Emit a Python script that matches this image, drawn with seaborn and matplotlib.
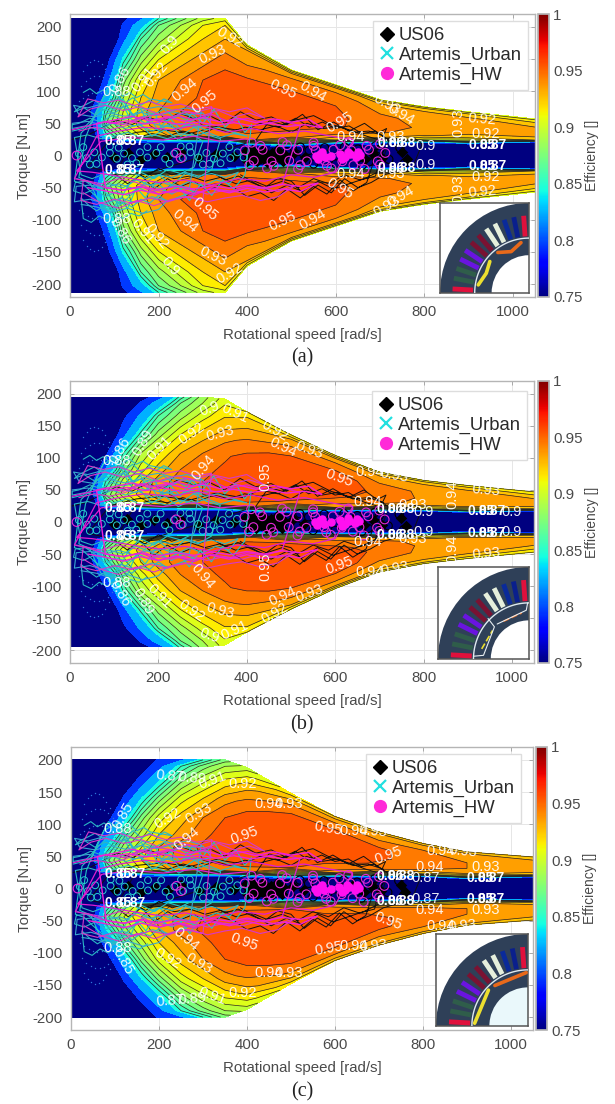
import numpy as np
import seaborn as sns
import matplotlib.pyplot as plt
from matplotlib.colors import Normalize
from matplotlib.cm import ScalarMappable
from matplotlib.lines import Line2D
from matplotlib.markers import MarkerStyle
from matplotlib.patches import Wedge, Circle

W, H = 615, 1104

# efficiency map: rows are fractions of the max torque at each speed
speeds = [0, 40, 80, 120, 160, 200, 250, 300, 350, 400, 500, 600, 700, 800, 900, 1050]
torque_frac = [0, .07, .14, .22, .32, .42, .55, .7, .85, .95, 1]

env_a = [213, 213, 213, 213, 213, 213, 213, 213, 213, 172, 133, 110, 87, 76, 68, 57]
env_b = [195, 195, 195, 195, 195, 195, 195, 195, 192, 172, 136, 104, 78, 65, 57, 47]
env_c = [200, 200, 200, 200, 200, 200, 200, 200, 200, 188, 148, 112, 88, 70, 57, 49]

eff_a = [
    [.7, .7, .7, .7, .7, .7, .7, .7, .7, .7, .7, .7, .7, .7, .7, .7],
    [.7, .7, .7, .7, .7, .7, .7, .7, .7, .7, .7, .7, .7, .7, .7, .7],
    [.7, .72, .84, .88, .91, .925, .935, .94, .945, .945, .87, .72, .7, .7, .7, .7],
    [.7, .74, .87, .905, .925, .935, .945, .95, .952, .952, .945, .92, .8, .7, .7, .7],
    [.7, .76, .855, .9, .925, .94, .95, .953, .956, .956, .952, .945, .93, .905, .89, .7],
    [.7, .74, .82, .89, .92, .935, .945, .952, .956, .957, .956, .952, .942, .932, .925, .92],
    [.7, .71, .79, .875, .91, .93, .94, .95, .955, .957, .957, .952, .945, .938, .935, .935],
    [.7, .7, .76, .845, .885, .91, .925, .935, .945, .95, .953, .95, .942, .937, .935, .935],
    [.7, .7, .72, .80, .86, .885, .905, .92, .93, .937, .945, .945, .935, .935, .932, .925],
    [.7, .7, .71, .785, .83, .87, .89, .91, .92, .93, .935, .932, .928, .925, .92, .915],
    [.7, .7, .7, .77, .805, .85, .875, .895, .905, .905, .905, .905, .905, .905, .905, .905],
]
eff_b = [
    [.7, .7, .7, .7, .7, .7, .7, .7, .7, .7, .7, .7, .7, .7, .7, .7],
    [.7, .7, .7, .7, .7, .7, .7, .7, .7, .7, .7, .7, .7, .7, .7, .7],
    [.7, .72, .84, .885, .91, .925, .935, .94, .945, .945, .87, .72, .7, .7, .7, .7],
    [.7, .74, .87, .905, .925, .935, .945, .95, .953, .955, .948, .93, .8, .7, .7, .7],
    [.7, .75, .85, .895, .92, .935, .945, .95, .955, .957, .955, .948, .935, .905, .89, .7],
    [.7, .73, .81, .875, .905, .925, .94, .947, .952, .957, .957, .953, .945, .935, .93, .915],
    [.7, .7, .77, .85, .89, .91, .93, .94, .948, .955, .957, .955, .948, .938, .935, .935],
    [.7, .7, .73, .80, .855, .885, .91, .925, .935, .945, .955, .955, .945, .938, .935, .935],
    [.7, .7, .71, .77, .815, .86, .885, .905, .92, .93, .942, .945, .935, .935, .932, .925],
    [.7, .7, .7, .74, .785, .825, .87, .89, .91, .92, .93, .932, .928, .925, .92, .915],
    [.7, .7, .7, .72, .76, .795, .855, .885, .905, .91, .91, .91, .91, .91, .91, .91],
]
eff_c = [
    [.7, .7, .7, .7, .7, .7, .7, .7, .7, .7, .7, .7, .7, .7, .7, .7],
    [.7, .7, .7, .7, .7, .7, .7, .7, .7, .7, .7, .7, .7, .7, .7, .7],
    [.7, .72, .84, .885, .91, .925, .935, .94, .945, .945, .87, .72, .7, .7, .7, .7],
    [.7, .74, .865, .9, .92, .932, .945, .95, .955, .955, .95, .935, .84, .7, .7, .7],
    [.7, .74, .84, .885, .91, .93, .945, .952, .957, .958, .956, .948, .938, .915, .895, .7],
    [.7, .72, .80, .865, .895, .92, .935, .947, .955, .958, .958, .956, .948, .94, .935, .915],
    [.7, .7, .76, .83, .875, .905, .925, .94, .95, .957, .958, .958, .952, .945, .94, .937],
    [.7, .7, .72, .785, .84, .875, .905, .92, .935, .945, .957, .957, .952, .945, .94, .937],
    [.7, .7, .7, .745, .79, .835, .875, .895, .91, .925, .945, .948, .94, .94, .935, .932],
    [.7, .7, .7, .72, .76, .80, .85, .875, .89, .905, .928, .935, .935, .932, .93, .928],
    [.7, .7, .7, .7, .74, .785, .805, .85, .875, .895, .915, .92, .92, .92, .92, .92],
]

# driving cycles, same in all three panels
us06_speed = [5, 35, 70, 105, 140, 175, 210, 245, 280, 315, 350, 385, 420, 455, 490, 525, 560, 595, 630, 665, 695, 715,
              700, 670, 640, 610, 580, 550, 520, 490, 460, 430, 400, 370, 340, 310, 280, 250, 220, 190, 160, 130, 100, 70, 40,
              90, 150, 210, 270, 330, 390, 430, 470, 510, 550, 590, 630, 670, 700, 730, 760, 780, 795,
              770, 740, 710, 680, 650, 620, 590, 560, 530, 500, 470, 440, 410, 380, 350, 320, 290, 260, 230, 200, 170, 140, 110,
              150, 185, 220, 255, 290, 325, 360, 395, 430, 465, 500, 535, 570, 605, 640, 675, 710,
              690, 655, 620, 585, 550, 515, 480, 445, 410, 375, 340, 305, 270, 235, 200, 165,
              420, 450, 480, 510, 540, 570, 600, 630, 660, 690, 720,
              700, 665, 630, 595, 560, 525, 490, 455, 420, 385]
us06_torque = [25, 30, 42, 55, 48, 60, 52, 66, 58, 62, 50, 68, 55, 60, 48, 64, 40, 52, 38, 50, 35, 42,
               20, -42, -55, -38, -60, -48, -66, -52, -70, -58, -64, -50, -45, -55, -40, -48, -36, -52, -30, -44, -28, -22, -18,
               25, 36, 40, 34, 45, 38, 50, 44, 55, 62, 48, 40, 30, 24, 28, 22, 26, 18,
               -25, -24, -30, -42, -50, -36, -58, -46, -62, -40, -35, -50, -42, -32, -38, -26, -34, -24, -30, -20, -34, -26, -18,
               28, 34, 30, 38, 32, 42, 36, 44, 40, 46, 36, 50, 42, 46, 36, 38, 30,
               -32, -38, -30, -44, -36, -50, -40, -48, -38, -44, -34, -40, -32, -36, -28, -30,
               24, 54, 48, 58, 44, 52, 42, 46, 34, 38, 24,
               -24, -36, -44, -52, -40, -56, -46, -58, -44, -30]
us06_core_speed = [100, 130, 160, 190, 220, 250, 290, 330, 370, 395, 405, 415, 425, 432, 440, 448, 455, 463, 470, 478, 485, 400,
                   412, 422, 436, 444, 458, 468, 480, 410, 428, 446, 466, 505, 530, 640, 665, 685, 705, 750, 760]
us06_core_torque = [-3, 4, -5, 3, -2, 5, -4, 3, 0, 6, -6, 4, 0, -4, 6, -2, 4, -6, 3, -3, 1, -8,
                    9, -9, 9, -10, -9, 9, -9, 0, 2, -1, 0, 4, -3, 5, -5, 3, -4, 6, -6]
us06_ring_speed = [490, 515, 540, 520, 550, 575, 600, 620, 650, 675, 700, 720, 660, 690, 745, 755]
us06_ring_torque = [6, -6, 8, 13, -13, 12, -13, 13, 10, -10, 10, -6, -15, 15, 12, -12]

urban_speed = [5, 30, 55, 80, 100, 120, 140, 160, 175, 190, 205, 225, 250, 275, 300, 325, 350, 375, 395, 410,
               395, 370, 345, 320, 295, 270, 245, 220, 195, 170, 150, 130, 110, 90, 70, 50, 30, 10,
               25, 50, 75, 100, 125, 150, 175, 200, 225, 250, 280, 310, 340,
               320, 290, 260, 230, 200, 170, 140, 115, 90, 65, 40, 20,
               35, 60, 85, 110, 135, 160, 185, 215, 245, 275, 300,
               280, 250, 220, 190, 160, 130, 100, 70, 45, 15]
urban_torque = [38, 42, 60, 78, 70, 88, 62, 72, 52, 68, 45, 58, 40, 66, 50, 72, 44, 60, 36, 48,
                -30, -52, -38, -62, -44, -70, -48, -58, -40, -66, -50, -82, -68, -92, -70, -58, -45, -40,
                35, 52, 90, 100, 80, 56, 64, 38, 50, 30, 44, 32, 26,
                -22, -34, -28, -46, -30, -42, -60, -76, -64, -48, -40, -34,
                28, 70, 104, 92, 58, 48, 30, 40, 24, 34, 22,
                -18, -28, -22, -36, -26, -48, -86, -80, -42, -36]
urban_pass_speed = [30, 45, 60, 75, 90, 105, 120, 135, 150, 165, 180,
                    230, 212, 195, 178, 160, 142, 125, 108, 90, 72, 55, 38, 20,
                    10, 32, 55, 78, 100, 122, 145, 168, 190, 212, 235, 258, 280,
                    320, 295, 270, 245, 220, 195, 170, 145, 120, 95, 70, 45, 20, 5,
                    5, 35, 65, 95, 125, 155, 185, 215, 245, 275, 305, 335, 360,
                    400, 370, 340, 310, 280, 250, 220, 190, 160, 130, 100, 70, 40, 10,
                    25, 50, 80, 110, 140, 170, 200, 230, 260, 290, 320, 350, 380,
                    360, 330, 300, 270, 240, 210, 180, 150, 120, 90, 60, 35, 12,
                    8, 30, 55, 80, 105, 130, 155, 180, 205, 230, 255, 280,
                    240, 220, 200, 180, 160, 140, 120, 100, 80, 60, 40, 25,
                    30, 48, 66, 84, 102, 120, 138, 156, 174]
urban_pass_torque = [98, 104, 96, 102, 94, 100, 92, 98, 90, 95, 88,
                     82, 88, 80, 86, 78, 90, 82, 88, 84, 78, 86, 80, 74,
                     68, 74, 64, 72, 66, 76, 62, 70, 64, 72, 60, 68, 58,
                     56, 60, 52, 62, 54, 58, 50, 60, 56, 62, 52, 58, 50, 48,
                     42, 46, 40, 50, 42, 48, 38, 46, 42, 50, 40, 44, 38,
                     30, 34, 28, 36, 30, 34, 26, 32, 28, 36, 30, 26, 32, 28,
                     -30, -36, -28, -34, -26, -36, -30, -34, -26, -32, -28, -34, -26,
                     -44, -38, -48, -40, -50, -42, -46, -38, -50, -44, -52, -40, -42,
                     -55, -60, -52, -64, -56, -62, -50, -58, -52, -60, -50, -56,
                     -66, -72, -62, -74, -68, -80, -72, -84, -78, -86, -76, -66,
                     -98, -104, -94, -100, -92, -98, -90, -94, -86]
urban_pass2_speed = [5, 40, 75, 110, 145, 180, 215, 250, 285, 320,
                     300, 265, 230, 195, 160, 125, 90, 55, 20,
                     8, 40, 72, 104, 136, 168, 200, 232, 264, 296,
                     270, 238, 206, 174, 142, 110, 78, 46, 14,
                     10, 45, 80, 115, 150, 185, 220,
                     200, 165, 130, 95, 60, 25]
urban_pass2_torque = [50, 53, 47, 52, 46, 51, 45, 50, 44, 48,
                      66, 63, 68, 62, 67, 61, 66, 60, 64,
                      78, 74, 80, 73, 79, 72, 76, 70, 74, 68,
                      -50, -46, -52, -45, -51, -44, -50, -46, -48,
                      -72, -68, -75, -66, -74, -64, -70,
                      -84, -90, -82, -88, -80, -76]
urban_low_speed = [30, 38, 46, 55, 64, 72, 80, 88, 25, 35, 45, 55, 65, 75, 85, 95, 105, 20, 30, 40, 50, 60, 70, 80, 90, 100,
                   30, 38, 46, 55, 64, 72, 80, 88, 25, 35, 45, 55, 65, 75, 85, 95, 105, 20, 30, 40, 50, 60, 70, 80, 90, 100]
urban_low_torque = [132, 140, 146, 148, 147, 143, 135, 125, 108, 116, 120, 123, 124, 122, 117, 110, 100, 84, 90, 94, 97, 98, 97, 94, 88, 80,
                    -132, -140, -146, -148, -147, -143, -135, -125, -108, -116, -120, -123, -124, -122, -117, -110, -100, -84, -90, -94, -97, -98, -97, -94, -88, -80]
urban_ring_speed = [20, 38, 55, 72, 90, 106, 122, 140, 158, 175, 195, 215, 235, 255, 272, 290, 308, 325, 345, 362, 378, 392,
                    30, 60, 90, 130, 175, 225, 270, 315, 360, 45, 110, 150, 205, 250, 300, 340]
urban_ring_torque = [3, -4, 5, -3, 4, -5, 3, -4, 5, -3, 4, -5, 3, -4, 5, -3, 4, -5, 3, -4, 5, -3,
                     13, -13, 14, -14, 13, -13, 14, -13, 13, -14, 12, -12, 13, 14, -14, -12]

hw_speed = [5, 40, 80, 120, 160, 200, 240, 280, 320, 360, 400, 440, 480, 520,
            480, 440, 400, 360, 320, 280, 240, 200, 160, 120, 80, 40, 10,
            60, 110, 170, 230, 290, 350, 410, 470, 530, 590, 640,
            600, 550, 500, 440, 380, 320, 260, 200, 140, 90, 50, 15,
            70, 140, 210, 280, 340, 400]
hw_torque = [40, 46, 52, 48, 60, 54, 62, 56, 64, 52, 58, 50, 54, 46,
             -44, -52, -48, -56, -50, -62, -54, -60, -48, -54, -50, -40, -36,
             30, 38, 44, 40, 48, 36, 42, 34, 38, 30, 24,
             -26, -34, -30, -40, -36, -46, -38, -42, -36, -30, -26, -24,
             22, 28, 24, 30, 22, 26]
hw_pass_speed = [20, 55, 90, 125, 160, 195, 230, 265, 300, 335, 370, 405, 440,
                 400, 360, 320, 280, 240, 200, 160, 120, 80, 45, 18,
                 40, 75, 110, 145, 180, 215, 250, 285, 320,
                 300, 260, 220, 180, 140, 100, 60, 25,
                 30, 70, 110, 150, 190, 230, 270, 310, 350, 390, 430, 470, 510,
                 470, 430, 390, 350, 310, 270, 230, 190, 150, 110, 70, 30]
hw_pass_torque = [38, 44, 40, 46, 58, 64, 60, 68, 62, 70, 60, 66, 58,
                  74, 68, 74, 66, 72, 64, 76, 70, 78, 72, 60,
                  88, 82, 86, 78, 84, 76, 80, 72, 76,
                  -70, -64, -72, -66, -74, -68, -76, -70,
                  -38, -44, -36, -42, -54, -58, -52, -60, -54, -58, -50, -56, -46,
                  -64, -70, -62, -66, -72, -64, -68, -78, -70, -82, -74, -58]
hw_pass2_speed = [90, 130, 170, 210, 250, 290, 330, 370, 410, 450, 490, 530, 570,
                  540, 500, 460, 420, 380, 340, 300, 260, 220, 180, 140, 100, 60,
                  80, 120, 160, 200, 240, 280, 320, 360, 400, 440, 480, 520, 560,
                  520, 480, 440, 400, 360, 320, 280, 240, 200, 160, 120, 80, 40]
hw_pass2_torque = [50, 54, 49, 53, 48, 52, 47, 51, 46, 50, 45, 48, 43,
                   56, 52, 57, 51, 58, 52, 59, 53, 60, 54, 61, 55, 50,
                   -50, -54, -49, -53, -48, -52, -47, -51, -46, -50, -45, -48, -43,
                   -56, -52, -57, -51, -58, -52, -59, -53, -60, -54, -61, -55, -50]
hw_ring_speed = [395, 415, 435, 455, 475, 495, 515, 535, 555, 575, 595, 615, 635, 655, 675, 695, 712,
                 405, 430, 460, 490, 520, 550, 580, 610, 640, 670, 700,
                 410, 445, 480, 515, 550, 590, 630, 665, 700,
                 15, 240, 250]
hw_ring_torque = [8, -8, 9, -9, 8, -8, 9, -9, 8, -8, 9, -9, 8, -8, 9, -9, 4,
                  -15, 15, -16, 16, -15, 15, -16, 16, -15, 15, -14,
                  20, -20, 21, -21, 20, -20, 21, -21, 18,
                  0, 4, -4]
hw_core_speed = [555, 565, 575, 590, 610, 622, 632, 645, 655, 560, 570, 615, 628, 650]
hw_core_torque = [0, 3, -3, 0, 3, -3, 2, -2, 1, -5, 5, -6, 6, 5]

# contour label text: speed, torque, text, rotation (mirrored below the axis)
labels_a = [(226, 172, '0.9', 50), (361, 183, '0.92', -30), (323, 157, '0.93', 25), (260, 102, '0.94', 40),
            (305, 84, '0.95', 40), (481, 102, '0.95', -25), (196, 126, '0.92', 50), (165, 118, '0.91', 50),
            (113, 118, '0.86', 60), (105, 98, '0.88', 0), (549, 99, '0.94', -30),
            (716, 79, '0.93', -30), (746, 64, '0.94', -30), (610, 51, '0.95', 30),
            (633, 29, '0.94', 0), (723, 28, '0.93', 0), (802, 15, '0.9', 0), (877, 51, '0.93', 90),
            (931, 56, '0.92', -5), (938, 33, '0.92', 0)]
labels_b = [(316, 177, '0.9', 20), (373, 169, '0.91', -25), (463, 143, '0.92', -30), (481, 116, '0.94', -25),
            (275, 138, '0.92', 35), (339, 138, '0.93', 15), (203, 116, '0.91', 45), (301, 85, '0.94', 50),
            (441, 70, '0.95', 90), (113, 112, '0.86', 60), (165, 124, '0.89', 60), (105, 95, '0.88', 0),
            (542, 112, '0.93', -20), (610, 68, '0.95', -20), (678, 78, '0.94', 0), (734, 73, '0.93', -10),
            (673, 31, '0.94', 0), (775, 26, '0.93', 0), (800, 15, '0.9', 0), (866, 42, '0.94', 90),
            (942, 50, '0.93', -5), (1000, 15, '0.9', 0)]
labels_c = [(225, 174, '0.87', -5), (275, 172, '0.89', -5), (321, 168, '0.91', 20),
            (389, 163, '0.92', 0), (450, 132, '0.94', 0), (495, 132, '0.93', 0), (219, 109, '0.92', 30),
            (291, 117, '0.93', 30), (393, 83, '0.95', 20), (262, 78, '0.94', 40), (118, 114, '0.85', 60),
            (105, 92, '0.88', 0), (585, 93, '0.95', -10), (642, 90, '0.94', 0),
            (687, 89, '0.93', -5), (721, 51, '0.95', 20), (816, 34, '0.94', 0), (841, 59, '0.94', 0),
            (890, 58, '0.93', -5), (942, 33, '0.93', 0), (807, 16, '0.87', 0)]
# labels piled on each other where many contours meet
labels_pile = [(108, 22, '0.85', 0), (138, 22, '0.87', 0), (725, 20, '0.86', 0), (750, 20, '0.88', 0),
               (930, 17, '0.85', 0), (955, 17, '0.87', 0)]

slot_colors = ['#e0103c', '#0a1f8c', '#0a2a9a', '#e6efdc', '#e6efdc', '#7a1232', '#7a1232',
               '#6a14e0', '#6a14e0', '#2f5d4a', '#2f5d4a', '#e0103c']
slot_angles = [86, 78.5, 71, 63.5, 56, 48.5, 41, 33.5, 26, 18.5, 11, 3]

sns.set_theme(style='whitegrid')
plt.rcParams['font.family'] = ['Liberation Sans', 'DejaVu Sans']
plt.rcParams['axes.unicode_minus'] = False
GRAY = '#4a4a4a'


def px_rect(l, t, r, b):
    return [l / W, 1 - b / H, (r - l) / W, (b - t) / H]


def draw_inset(box, orange, yellow, outline, hole_color, dashed):
    ins = fig.add_axes(px_rect(*box), zorder=6)
    ins.set_xlim(0, 1)
    ins.set_ylim(0, 1)
    ins.set_xticks([])
    ins.set_yticks([])
    ins.grid(False)
    ins.set_facecolor('white')
    for sp in ins.spines.values():
        sp.set_color('#555555')
        sp.set_linewidth(1.1)
    ins.add_patch(Wedge((1, 0), 1.0, 90, 180, fc='#2f4058', ec='none'))
    ins.add_patch(Circle((1, 0), 0.42, fc=hole_color, ec='none', zorder=2))
    arc = np.radians(np.linspace(90, 180, 60))
    ins.plot(1 + .61 * np.cos(arc), .61 * np.sin(arc), color='#dfe9ef', lw=1.0, zorder=3)
    for ang, col in zip(slot_angles, slot_colors):
        a = np.radians(180 - ang)
        ins.plot([1 + .63 * np.cos(a), 1 + .86 * np.cos(a)], [.63 * np.sin(a), .86 * np.sin(a)],
                 color=col, lw=3.5, solid_capstyle='butt', zorder=3)
    style = '--' if dashed else '-'
    lw = 1.2 if dashed else 2.6
    for pts, col in ((orange, '#e8691a'), (yellow, '#ecdf30')):
        ins.plot([p[0] for p in pts], [p[1] for p in pts], color=col, lw=lw, ls=style, zorder=4)
    for pts in outline:
        ins.plot([p[0] for p in pts], [p[1] for p in pts], color='#e8eef2', lw=.8, zorder=4)


def draw_panel(box, cbar_box, eff, env, labels, leg_xy, tag, tag_y):
    ax = fig.add_axes(px_rect(*box))
    cax = fig.add_axes(px_rect(*cbar_box))

    # curvilinear grid following the torque envelope, mirrored for braking
    frac = np.array(torque_frac)
    T = np.outer(frac, env)
    S = np.tile(speeds, (len(frac), 1))
    Z = np.array(eff)
    TT = np.vstack([-T[:0:-1], T])
    SS = np.vstack([S[:0:-1], S])
    ZZ = np.vstack([Z[:0:-1], Z])

    norm = Normalize(0.75, 1)
    levels = [.5, .78, .81, .84, .85, .86, .87, .88, .89, .90, .91, .92, .93, .94, .95, .96, 1]
    ax.contourf(SS, TT, ZZ, levels=levels, cmap='jet', norm=norm, zorder=1)
    ax.contour(SS, TT, ZZ, levels=[.85, .86, .87, .88, .89, .90, .91, .92, .93, .94, .95],
               colors='#262626', linewidths=.5, zorder=2)

    # driving cycles
    sns.lineplot(x=us06_speed, y=us06_torque, sort=False, estimator=None, color='#111111', lw=.7, ax=ax, zorder=3)
    sns.scatterplot(x=us06_core_speed, y=us06_core_torque, marker='D', color='black', s=34, linewidth=0, ax=ax, zorder=3, legend=False)
    sns.scatterplot(x=us06_ring_speed, y=us06_ring_torque, marker=MarkerStyle('o', fillstyle='none'),
                    color='black', s=35, linewidth=.8, ax=ax, zorder=3, legend=False)
    sns.scatterplot(x=urban_low_speed, y=urban_low_torque, marker='.', color='#2f74d8', s=4, linewidth=0, ax=ax, zorder=3, legend=False)
    sns.lineplot(x=urban_speed, y=urban_torque, sort=False, estimator=None, color='#23c4c4', lw=.8, ax=ax, zorder=4)
    sns.lineplot(x=urban_pass_speed, y=urban_pass_torque, sort=False, estimator=None, color='#2bb8c4', lw=.8, ax=ax, zorder=4)
    sns.lineplot(x=urban_pass2_speed, y=urban_pass2_torque, sort=False, estimator=None, color='#3aa8d0', lw=.8, ax=ax, zorder=4)
    sns.scatterplot(x=urban_ring_speed, y=urban_ring_torque, marker=MarkerStyle('o', fillstyle='none'),
                    color='#28cfcf', s=24, linewidth=.7, ax=ax, zorder=4, legend=False)
    sns.lineplot(x=hw_speed, y=hw_torque, sort=False, estimator=None, color='#e01ed0', lw=.9, ax=ax, zorder=5)
    sns.lineplot(x=hw_pass_speed, y=hw_pass_torque, sort=False, estimator=None, color='#d838c8', lw=.8, ax=ax, zorder=5)
    sns.lineplot(x=hw_pass2_speed, y=hw_pass2_torque, sort=False, estimator=None, color='#f020d8', lw=1.0, ax=ax, zorder=5)
    sns.scatterplot(x=hw_ring_speed, y=hw_ring_torque, marker=MarkerStyle('o', fillstyle='none'),
                    color='#e428d8', s=40, linewidth=.8, ax=ax, zorder=5, legend=False)
    sns.scatterplot(x=hw_core_speed, y=hw_core_torque, marker='o', color='#ff10f0', s=38, linewidth=0, ax=ax, zorder=5, legend=False)

    # contour labels
    for s, t, txt, rot in labels:
        for sign in (1, -1):
            ax.text(s, sign * t, txt, color='white', fontsize=10.5, alpha=.92, rotation=sign * rot if abs(rot) != 90 else rot,
                    ha='center', va='center', zorder=6)
    for s, t, txt, rot in labels_pile:
        for sign in (1, -1):
            ax.text(s, sign * t, txt, color='white', fontsize=10, fontweight='bold', rotation=rot,
                    ha='center', va='center', zorder=6)

    ax.set_xlim(0, 1050)
    ax.set_ylim(-220, 220)
    ax.set_xticks(range(0, 1001, 200))
    ax.set_yticks(range(-200, 201, 50))
    ax.grid(True, color='#e6e6e6', lw=.7)
    ax.set_axisbelow(True)
    ax.tick_params(direction='in', length=3, width=.7, color='#a8a8a8', labelcolor=GRAY, labelsize=10.8, pad=6, top=True, right=True, left=True, bottom=True)
    ax.set_xlabel('Rotational speed [rad/s]', fontsize=10.8, color=GRAY, labelpad=6)
    ax.set_ylabel('Torque [N.m]', fontsize=10.8, color=GRAY, labelpad=0)
    for sp in ax.spines.values():
        sp.set_color('#b5b5b5')
        sp.set_linewidth(1.0)

    handles = [Line2D([], [], marker='D', color='black', ls='', ms=7.5),
               Line2D([], [], marker='x', color='#22e0e0', ls='', ms=8, mew=1.6),
               Line2D([], [], marker='o', color='#ff2ad8', ls='', ms=8.5)]
    leg = ax.legend(handles, ['US06', 'Artemis_Urban', 'Artemis_HW'], loc='upper left',
                    bbox_to_anchor=(leg_xy[0] / W, 1 - leg_xy[1] / H), bbox_transform=fig.transFigure,
                    fontsize=13.3, frameon=True, fancybox=False, framealpha=1, edgecolor='#dddddd',
                    handlelength=.8, handletextpad=.25, labelspacing=.14, borderpad=.34, borderaxespad=0)
    leg.set_zorder(8)
    for t in leg.get_texts():
        t.set_color('#2a2a2a')

    cb = fig.colorbar(ScalarMappable(norm=norm, cmap='jet'), cax=cax)
    cb.set_ticks([.75, .8, .85, .9, .95, 1])
    cb.set_ticklabels(['0.75', '0.8', '0.85', '0.9', '0.95', '1'])
    cax.tick_params(length=0, labelsize=10.8, labelcolor=GRAY, pad=3)
    cax.grid(False)
    cb.set_label('Efficiency []', fontsize=10, color=GRAY, labelpad=2)
    cb.outline.set_edgecolor('#b5b5b5')

    fig.text(302 / W, 1 - tag_y / H, tag, family='Liberation Serif', fontsize=14.5, color='#222222', ha='center', va='center')


fig = plt.figure(figsize=(W / 100, H / 100), dpi=100, facecolor='white')

draw_panel((70, 14, 535, 297), (538, 14, 549, 297), eff_a, env_a, labels_a, (373, 21), '(a)', 358)
draw_panel((70, 381, 534, 663), (538, 381, 549, 663), eff_b, env_b, labels_b, (372, 391), '(b)', 725)
draw_panel((71, 747, 533, 1030), (536, 747, 547, 1030), eff_c, env_c, labels_c, (366, 754), '(c)', 1092)

draw_inset((440, 203, 529, 293),
           [(.65, .45), (.80, .46), (.91, .56)], [(.43, .09), (.52, .22), (.56, .35)], [], 'white', False)
draw_inset((438, 567, 529, 659),
           [(.72, .41), (.92, .50)], [(.48, .11), (.60, .31)],
           [[(.39, .03), (.5, .04), (.62, .35), (.55, .44)], [(.65, .38), (.97, .53), (.985, .61)]], 'white', True)
draw_inset((436, 934, 528, 1026),
           [(.64, .44), (.98, .58)], [(.42, .03), (.57, .39)], [], '#eaf8fb', False)

plt.savefig('out.png', dpi=100)
